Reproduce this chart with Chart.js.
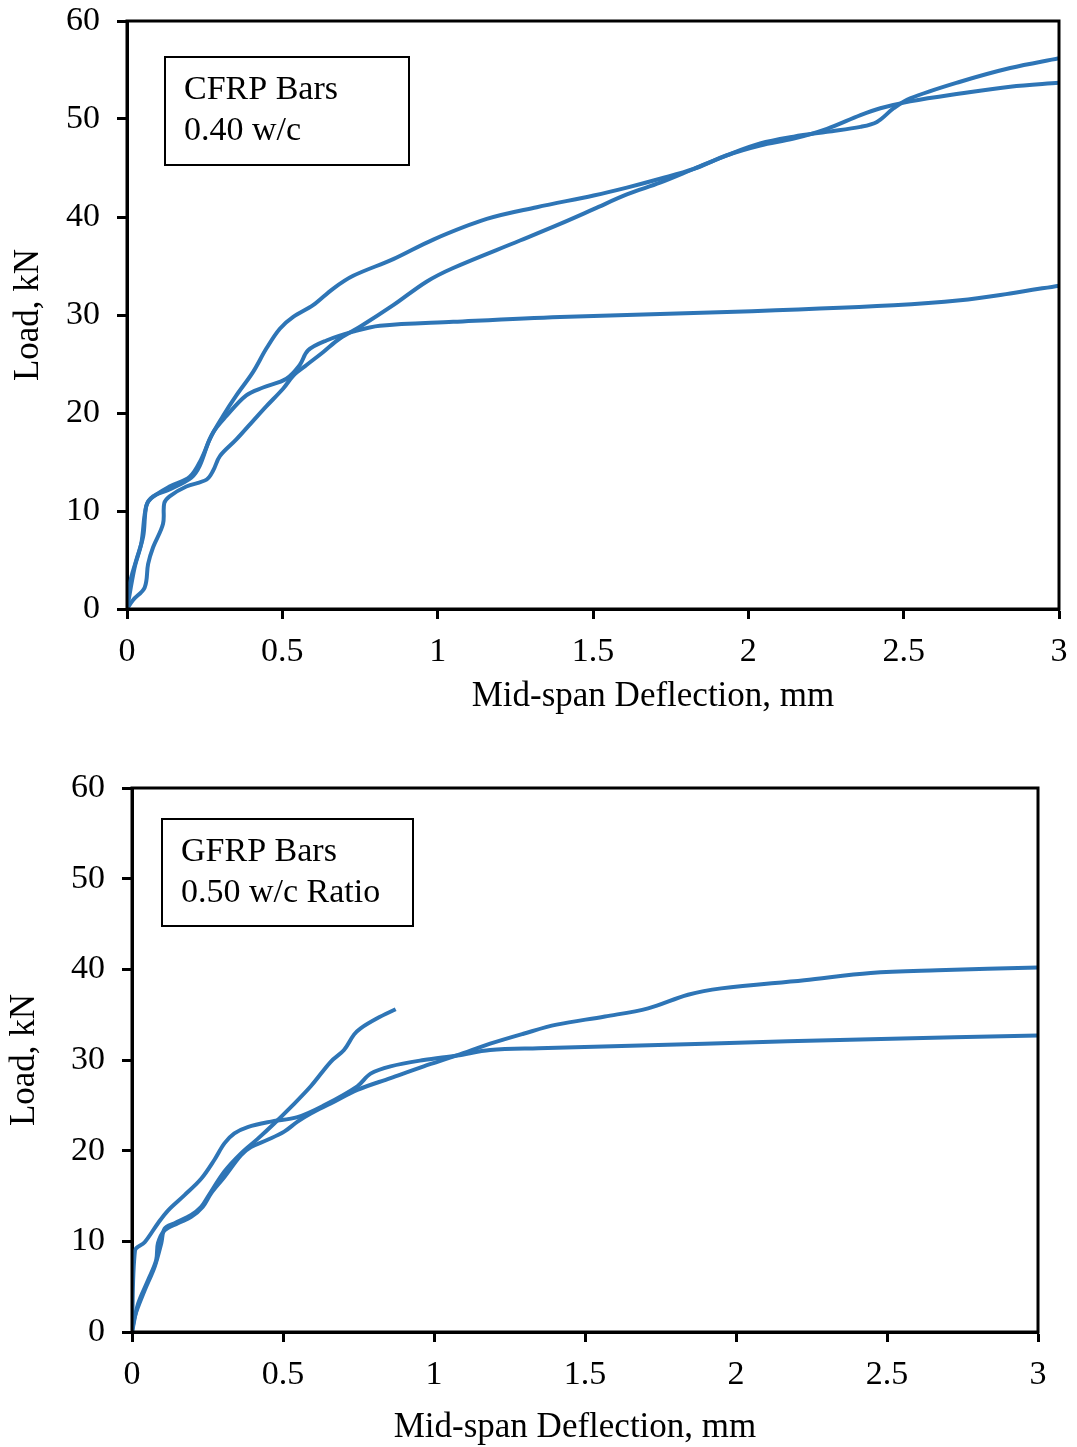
<!DOCTYPE html>
<html>
<head>
<meta charset="utf-8">
<title>Load-deflection curves</title>
<script src="https://cdn.jsdelivr.net/npm/chart.js@4.4.1/dist/chart.umd.min.js"></script>
<style>
    body { margin: 0; background: #fff; }
    .wrap { position: relative; width: 1077px; height: 1447px; }
    canvas { position: absolute; left: 0; }
    #cfrpChart { top: 0; }
    #gfrpChart { top: 727px; }
</style>
</head>
<body>
<div class="wrap">
    <canvas id="cfrpChart" width="1077" height="727"></canvas>
    <canvas id="gfrpChart" width="1077" height="720"></canvas>
</div>
<script>
// CFRP bars, 0.40 w/c - three beams
const cfrpDefl1 = [0, 0.025, 0.046, 0.062, 0.084, 0.137, 0.207, 0.234, 0.266, 0.309, 0.352, 0.406, 0.449, 0.492, 0.535, 0.599, 0.664, 0.728, 0.857, 0.986, 1.158, 1.319, 1.502, 1.609, 1.716, 1.824, 1.931, 2.038, 2.146, 2.253, 2.361, 2.425, 2.521, 2.682, 2.843, 3.0];
const cfrpLoad1 = [0, 4.3, 6.7, 10.5, 11.5, 12.2, 13.4, 14.6, 17.3, 19.7, 21.8, 24.2, 26.6, 28.6, 29.8, 31.0, 32.7, 34.0, 35.7, 37.7, 39.8, 41.0, 42.2, 43.0, 43.9, 44.9, 46.3, 47.3, 48.0, 49.0, 50.4, 51.1, 51.8, 52.6, 53.3, 53.7];

const cfrpDefl2 = [0, 0.019, 0.057, 0.068, 0.084, 0.116, 0.12, 0.137, 0.191, 0.256, 0.277, 0.299, 0.352, 0.406, 0.449, 0.503, 0.535, 0.578, 0.631, 0.685, 0.75, 0.857, 0.964, 1.05, 1.265, 1.394, 1.502, 1.609, 1.716, 1.824, 1.931, 2.038, 2.146, 2.253, 2.361, 2.414, 2.468, 2.521, 2.682, 2.843, 3.0];
const cfrpLoad2 = [0, 0.9, 2.2, 4.6, 6.3, 8.7, 10.8, 11.5, 12.5, 13.2, 14.1, 15.6, 17.3, 19.2, 20.7, 22.5, 23.8, 24.9, 26.2, 27.6, 28.8, 31.0, 33.4, 34.8, 37.6, 39.3, 40.8, 42.3, 43.5, 44.9, 46.3, 47.5, 48.2, 48.7, 49.2, 49.7, 51.1, 52.1, 53.8, 55.2, 56.2];

const cfrpDefl3 = [0, 0.009, 0.03, 0.052, 0.062, 0.078, 0.137, 0.202, 0.239, 0.277, 0.32, 0.384, 0.438, 0.513, 0.556, 0.583, 0.642, 0.728, 0.814, 1.05, 1.394, 1.931, 2.468, 2.682, 2.843, 3.0];
const cfrpLoad3 = [0, 2.6, 5.0, 7.4, 10.5, 11.3, 12.5, 13.5, 15.3, 18.0, 19.7, 21.8, 22.6, 23.5, 24.9, 26.4, 27.4, 28.3, 28.9, 29.3, 29.8, 30.3, 31.0, 31.5, 32.2, 33.0];

// GFRP bars, 0.50 w/c - three beams
const gfrpDefl1 = [0, 0.009, 0.042, 0.075, 0.097, 0.108, 0.141, 0.196, 0.229, 0.251, 0.306, 0.361, 0.416, 0.471, 0.526, 0.592, 0.658, 0.702, 0.735, 0.757, 0.812, 0.873];
const gfrpLoad1 = [0, 1.7, 4.6, 7.2, 9.8, 11.4, 12.0, 12.9, 13.8, 14.9, 17.7, 19.7, 21.3, 23.0, 24.8, 27.1, 29.8, 31.1, 32.8, 33.5, 34.6, 35.6];

const gfrpDefl2 = [0, 0.01, 0.042, 0.086, 0.119, 0.174, 0.229, 0.273, 0.306, 0.339, 0.383, 0.46, 0.548, 0.636, 0.746, 0.79, 0.856, 0.966, 1.076, 1.186, 1.346, 1.896, 2.446, 3.0];
const gfrpLoad2 = [0, 9.0, 9.9, 12.0, 13.4, 15.1, 16.9, 19.0, 20.8, 21.9, 22.6, 23.2, 23.7, 25.0, 27.1, 28.5, 29.3, 30.0, 30.5, 31.1, 31.3, 31.8, 32.3, 32.7];

const gfrpDefl3 = [0, 0.02, 0.053, 0.08, 0.086, 0.108, 0.152, 0.196, 0.234, 0.262, 0.306, 0.361, 0.394, 0.449, 0.504, 0.548, 0.592, 0.658, 0.746, 0.856, 0.966, 1.076, 1.186, 1.296, 1.406, 1.566, 1.709, 1.841, 1.951, 2.226, 2.446, 2.667, 3.0];
const gfrpLoad3 = [0, 3.1, 5.7, 7.9, 9.8, 11.2, 12.0, 12.7, 13.8, 15.3, 17.1, 19.5, 20.4, 21.2, 22.1, 23.2, 24.1, 25.2, 26.7, 28.0, 29.3, 30.5, 31.8, 32.9, 33.9, 34.8, 35.7, 37.2, 37.9, 38.8, 39.6, 39.9, 40.2];

const xTicks = [0, 0.5, 1, 1.5, 2, 2.5, 3];
const yTicks = [0, 10, 20, 30, 40, 50, 60];

const LINE_COLOR = "#2E75B6";
const FONT = "'Liberation Serif', 'Times New Roman', serif";

function toPoints(xs, ys) {
    return xs.map((x, i) => ({ x: x, y: ys[i] }));
}

function curve(xs, ys) {
    return {
        data: toPoints(xs, ys),
        showLine: true,
        borderColor: LINE_COLOR,
        borderWidth: 4,
        pointRadius: 0,
        tension: 0.35,
        fill: false
    };
}

// black box round the plot area (top and right edges too)
const frame = {
    id: "frame",
    afterDraw(chart) {
        const a = chart.chartArea;
        const ctx = chart.ctx;
        ctx.save();
        ctx.strokeStyle = "#000";
        ctx.lineWidth = 3;
        ctx.strokeRect(a.left, a.top, a.right - a.left, a.bottom - a.top);
        ctx.restore();
    }
};

// label box in the upper left corner and the x axis caption
const notes = {
    id: "notes",
    afterDraw(chart, args, opts) {
        const a = chart.chartArea;
        const ctx = chart.ctx;
        ctx.save();
        const bx = a.left + opts.box.dx;
        const by = a.top + opts.box.dy;
        ctx.fillStyle = "#fff";
        ctx.fillRect(bx, by, opts.box.w, opts.box.h);
        ctx.strokeStyle = "#000";
        ctx.lineWidth = 2;
        ctx.strokeRect(bx, by, opts.box.w, opts.box.h);
        ctx.fillStyle = "#000";
        ctx.font = "34px " + FONT;
        ctx.textAlign = "left";
        ctx.textBaseline = "middle";
        opts.box.lines.forEach((t, i) => {
            ctx.fillText(t, bx + 19, by + 33 + i * 41);
        });
        ctx.textAlign = "center";
        ctx.font = "35px " + FONT;
        ctx.fillText(opts.caption.text, (a.left + a.right) / 2 + opts.caption.dx, a.bottom + opts.caption.dy);
        ctx.restore();
    }
};

function makeChart(id, datasets, cfg) {
    const ctx = document.getElementById(id).getContext("2d");
    return new Chart(ctx, {
        type: "scatter",
        data: { datasets: datasets },
        options: {
            responsive: false,
            animation: false,
            devicePixelRatio: 1,
            layout: { padding: cfg.padding },
            plugins: {
                legend: { display: false },
                tooltip: { enabled: false },
                notes: { box: cfg.box, caption: cfg.caption }
            },
            scales: {
                x: {
                    type: "linear",
                    min: 0,
                    max: 3,
                    afterBuildTicks: (scale) => { scale.ticks = xTicks.map(v => ({ value: v })); },
                    // fixed axis height; let the layout padding decide the plot edges
                    afterFit: (scale) => {
                        scale.height = cfg.xHeight;
                        scale.paddingLeft = 0;
                        scale.paddingRight = 0;
                    },
                    ticks: {
                        color: "#000",
                        padding: 13,
                        font: { family: FONT, size: 34 },
                        callback: (v) => String(v)
                    },
                    grid: { drawOnChartArea: false, drawTicks: true, tickLength: 10, tickWidth: 3, tickColor: "#000" },
                    border: { color: "#000", width: 3 }
                },
                y: {
                    type: "linear",
                    min: 0,
                    max: 60,
                    afterBuildTicks: (scale) => { scale.ticks = yTicks.map(v => ({ value: v })); },
                    afterFit: (scale) => {
                        scale.width = cfg.yWidth;
                        scale.paddingTop = 0;
                        scale.paddingBottom = 0;
                    },
                    ticks: {
                        color: "#000",
                        padding: 17,
                        font: { family: FONT, size: 34 }
                    },
                    grid: { drawOnChartArea: false, drawTicks: true, tickLength: 10, tickWidth: 3, tickColor: "#000" },
                    border: { color: "#000", width: 3 },
                    title: {
                        display: true,
                        text: "Load, kN",
                        color: "#000",
                        font: { family: FONT, size: 35, lineHeight: 1 },
                        padding: { top: cfg.yTitlePad, bottom: 0 }
                    }
                }
            }
        },
        plugins: [frame, notes]
    });
}

document.addEventListener("DOMContentLoaded", function () {
    makeChart("cfrpChart", [
        curve(cfrpDefl1, cfrpLoad1),
        curve(cfrpDefl2, cfrpLoad2),
        curve(cfrpDefl3, cfrpLoad3)
    ], {
        padding: { top: 21, right: 18, left: 0, bottom: 0 },
        xHeight: 118,
        yWidth: 127,
        yTitlePad: 11,
        box: { dx: 38, dy: 36, w: 244, h: 108, lines: ["CFRP Bars", "0.40 w/c"] },
        caption: { text: "Mid-span Deflection, mm", dx: 60, dy: 88 }
    });

    makeChart("gfrpChart", [
        curve(gfrpDefl1, gfrpLoad1),
        curve(gfrpDefl2, gfrpLoad2),
        curve(gfrpDefl3, gfrpLoad3)
    ], {
        padding: { top: 61, right: 39, left: 0, bottom: 0 },
        xHeight: 115,
        yWidth: 132,
        yTitlePad: 7,
        box: { dx: 30, dy: 31, w: 251, h: 107, lines: ["GFRP Bars", "0.50 w/c Ratio"] },
        caption: { text: "Mid-span Deflection, mm", dx: -10, dy: 96 }
    });
});
</script>
</body>
</html>
